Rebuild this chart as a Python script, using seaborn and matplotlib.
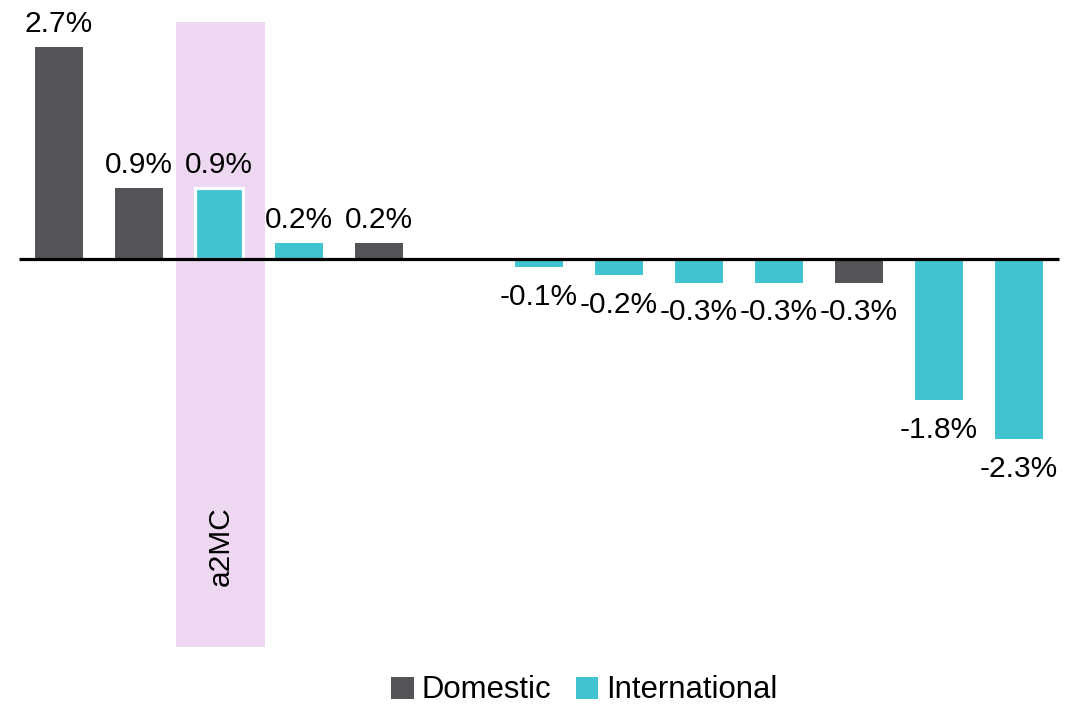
import numpy as np
import pandas as pd
import matplotlib
matplotlib.use("Agg")
import matplotlib.pyplot as plt
import seaborn as sns
from matplotlib.patches import Rectangle

# ---- data ----
categories = [f"c{i}" for i in range(1, 14)]
values = [2.7, 0.9, 0.9, 0.2, 0.2, np.nan, -0.1, -0.2, -0.3, -0.3, -0.3, -1.8, -2.3]
types = ["Domestic", "Domestic", "International", "International", "Domestic", "Domestic",
         "International", "International", "International", "International", "Domestic",
         "International", "International"]
labels = ["2.7%", "0.9%", "0.9%", "0.2%", "0.2%", "", "-0.1%", "-0.2%", "-0.3%", "-0.3%",
          "-0.3%", "-1.8%", "-2.3%"]
highlight_index = 2
highlight_label = "a2MC"
palette = {"Domestic": "#535358", "International": "#42C3D0"}

df = pd.DataFrame({"cat": categories, "value": values, "type": types})

sns.set_theme(style="white")
plt.rcParams["font.family"] = ["Liberation Sans", "DejaVu Sans"]
FS = 21.5

fig = plt.figure(figsize=(10.86, 7.06), dpi=100)
ax = fig.add_axes([0, 0, 1, 1])

sns.barplot(data=df, x="cat", y="value", hue="type", order=categories,
            hue_order=["Domestic", "International"], palette=palette,
            dodge=False, width=0.61, linewidth=0, saturation=1, ax=ax, zorder=2)

ax.set_xlim(-0.7375, 12.8375)
ax.set_ylim(-5.702, 3.304)
ax.axis("off")

# highlight band
ax.add_patch(Rectangle((highlight_index - 0.54, -4.949), 1.11, 3.023 + 4.949,
                       facecolor="#EDD7F1", edgecolor="none", zorder=0))
ax.text(highlight_index + 0.02, -3.66, highlight_label, rotation=90, ha="center",
        va="center", fontsize=FS, color="black", zorder=3)

# white edge on highlighted bar
for p in ax.patches:
    if isinstance(p, Rectangle) and p.get_height() == p.get_height() and abs(p.get_x() + p.get_width() / 2 - highlight_index) < 0.01 and p.get_height() != 0:
        p.set_edgecolor("white")
        p.set_linewidth(2.3)

# zero line
ax.hlines(0, -0.5, len(categories) - 0.5, color="black", linewidth=2.3, zorder=4)

# value labels
for i, (v, lab) in enumerate(zip(values, labels)):
    if not lab or np.isnan(v):
        continue
    if v >= 0:
        ax.annotate(lab, (i, v), xytext=(0, 10.8), textcoords="offset points",
                    ha="center", va="baseline", fontsize=FS, color="black", zorder=5)
    else:
        ax.annotate(lab, (i, v), xytext=(0, -11.5), textcoords="offset points",
                    ha="center", va="top", fontsize=FS, color="black", zorder=5)

sns.move_legend(ax, "center", bbox_to_anchor=(0.538, 0.022), bbox_transform=fig.transFigure,
                ncol=2, frameon=False, title=None, fontsize=22.4, handlelength=0.72,
                handleheight=0.72, handletextpad=0.25, columnspacing=0.8, labelcolor="black")

fig.savefig("out.png", dpi=100)
